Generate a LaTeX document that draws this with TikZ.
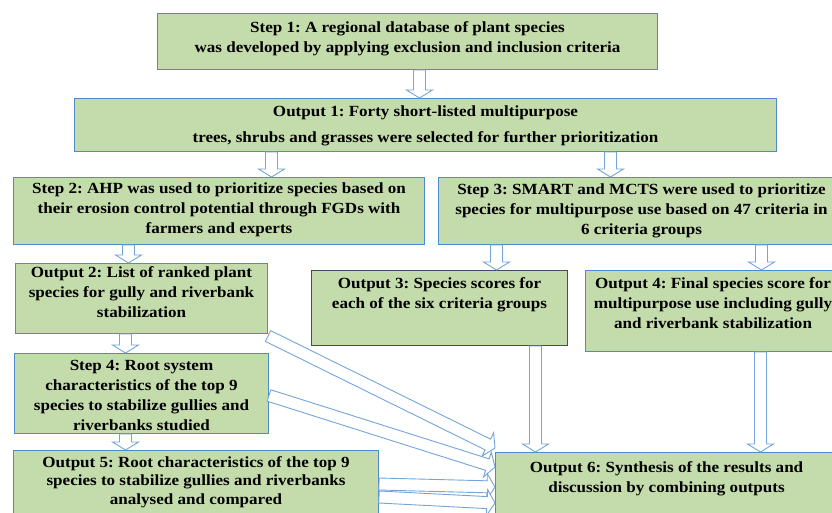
\documentclass[tikz,border=0pt]{standalone}
\usepackage{fontspec}
\setmainfont{Liberation Serif}[FakeStretch=1.1]
\usepackage{tikz}
\usetikzlibrary{calc}
\frenchspacing

\definecolor{boxgreen}{RGB}{196,219,172}
\definecolor{boxblue}{RGB}{79,138,204}
\definecolor{arrowblue}{RGB}{116,165,218}
\definecolor{slateline}{RGB}{68,76,96}

\newcommand{\boxtext}[4]{\parbox[c][#2][t]{#1}{\centering\vspace*{#3}#4}}

\tikzset{
  box/.style={draw=boxblue, fill=boxgreen, line width=1pt, inner sep=0pt,
    anchor=north west, font=\bfseries\fontsize{15.5}{20}\selectfont},
  darkbox/.style={box, draw=slateline},
  hollow/.style={draw=arrowblue, fill=white, line width=0.9pt, line join=miter}
}

\newcommand{\hollowarrow}[2]{%
  \draw[hollow] let \p1=(#1), \p2=(#2), \n1={atan2(\y2-\y1,\x2-\x1)} in
    ($(\p1)+({\n1+90}:6pt)$) -- ($(\p2)+(\n1:-8pt)+({\n1+90}:6pt)$)
    -- ($(\p2)+(\n1:-8pt)+({\n1+90}:13pt)$) -- (\p2)
    -- ($(\p2)+(\n1:-8pt)+({\n1-90}:13pt)$) -- ($(\p2)+(\n1:-8pt)+({\n1-90}:6pt)$)
    -- ($(\p1)+({\n1-90}:6pt)$) -- cycle;}

\begin{document}
\begin{tikzpicture}[x=1pt, y=-1pt]
  \clip (0,0) rectangle (832,512);

  \node[box] (s1) at (157,13) {\boxtext{500pt}{56pt}{8pt}{Step 1: A regional database of plant species\\
    was developed by applying exclusion and inclusion criteria}};
  \node[box] (o1) at (74,98) {\boxtext{702pt}{53pt}{7pt}{Output 1: Forty short-listed multipurpose\\[6pt]
    trees, shrubs and grasses were selected for further prioritization}};

  \node[box] (s2) at (13,177) {\boxtext{411pt}{67pt}{5pt}{Step 2: AHP was used to prioritize species based on\\
    their erosion control potential through FGDs with\\ farmers and experts}};
  \node[box] (s3) at (438,177) {\boxtext{406pt}{67pt}{6pt}{Step 3: SMART and MCTS were used to prioritize\\
    species for multipurpose use based on 47 criteria in\\ 6 criteria groups}};

  \node[box] (o2) at (15,263) {\boxtext{252pt}{70pt}{3pt}{Output 2: List of ranked plant\\
    species for gully and riverbank\\ stabilization}};
  \node[darkbox] (o3) at (311,270) {\boxtext{256pt}{75pt}{7pt}{Output 3: Species scores for\\
    each of the six criteria groups}};
  \node[box] (o4) at (585,270) {\boxtext{255pt}{81pt}{7pt}{Output 4: Final species score for\\
    multipurpose use including gully\\ and riverbank stabilization}};

  \node[box] (s4) at (14,353) {\boxtext{254pt}{80pt}{7pt}{Step 4: Root system\\
    characteristics of the top 9\\ species to stabilize gullies and\\ riverbanks studied}};
  \node[box] (o5) at (13,450) {\boxtext{365pt}{70pt}{6pt}{\fontsize{15.5}{18.5}\selectfont
    Output 5: Root characteristics of the top 9\\
    species to stabilize gullies and riverbanks\\ analysed and compared}};
  \node[box] (o6) at (495,452) {\boxtext{342pt}{70pt}{9pt}{Output 6: Synthesis of the results and\\
    discussion by combining outputs}};

  % straight down
  \hollowarrow{[xshift=12pt]s1.south}{[xshift=-6pt]o1.north}
  \hollowarrow{[xshift=-154pt]o1.south}{[xshift=52.5pt]s2.north}
  \hollowarrow{[xshift=185pt]o1.south}{[xshift=-31pt]s3.north}
  \hollowarrow{[xshift=-90.5pt]s2.south}{[xshift=-13pt]o2.north}
  \hollowarrow{[xshift=-145pt]s3.south}{[xshift=57pt]o3.north}
  \hollowarrow{[xshift=120pt]s3.south}{[xshift=48.5pt]o4.north}
  \hollowarrow{[xshift=-16pt]o2.south}{[xshift=-16pt]s4.north}
  \hollowarrow{[xshift=-16pt]s4.south}{[xshift=-70.5pt]o5.north}
  \hollowarrow{[xshift=96pt]o3.south}{[xshift=-131pt]o6.north}
  \hollowarrow{[xshift=47.5pt]o4.south}{[xshift=94pt]o6.north}

  % into output 6
  \hollowarrow{[yshift=-2pt]o2.south east}{[yshift=4pt]o6.north west}
  \hollowarrow{[yshift=-2pt]s4.east}{[yshift=-15pt]o6.north west}
  \hollowarrow{[yshift=-34pt]o5.north east}{[yshift=-35pt]o6.north west}
  \hollowarrow{[yshift=-47pt]o5.north east}{[yshift=-51pt]o6.north west}
\end{tikzpicture}
\end{document}
